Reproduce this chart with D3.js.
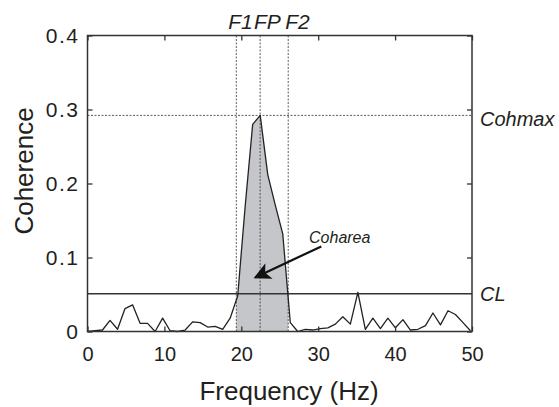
<!DOCTYPE html>
<html>
<head>
<meta charset="utf-8">
<script src="https://cdn.jsdelivr.net/npm/d3@7"></script>
<style>
  body { margin: 0; background: #fff; }
  svg text { font-family: "Liberation Sans", Arial, sans-serif; fill: #231f20; }
</style>
</head>
<body>
<svg id="chart" width="559" height="407"></svg>
<script>
// frequency bins (Hz) and coherence values
var freq = [0.00, 0.98, 1.95, 2.93, 3.91, 4.88, 5.86, 6.84, 7.81, 8.79,
    9.77, 10.74, 11.72, 12.70, 13.67, 14.65, 15.63, 16.60, 17.58, 18.55,
    19.53, 20.51, 21.48, 22.46, 23.44, 24.41, 25.39, 26.37, 27.34, 28.32,
    29.30, 30.27, 31.25, 32.23, 33.20, 34.18, 35.16, 36.13, 37.11, 38.09,
    39.06, 40.04, 41.02, 41.99, 42.97, 43.95, 44.92, 45.90, 46.88, 47.85,
    48.83, 49.80];
var coh = [0.000, 0.001, 0.002, 0.015, 0.003, 0.031, 0.036, 0.011, 0.011, 0.000,
    0.018, 0.001, 0.000, 0.002, 0.013, 0.012, 0.006, 0.007, 0.003, 0.018,
    0.048, 0.170, 0.280, 0.292, 0.212, 0.171, 0.132, 0.012, 0.000, 0.003,
    0.002, 0.004, 0.005, 0.010, 0.020, 0.010, 0.053, 0.003, 0.018, 0.004,
    0.018, 0.005, 0.016, 0.002, 0.003, 0.008, 0.025, 0.009, 0.028, 0.023,
    0.012, 0.001];

var xTicks = [0, 10, 20, 30, 40, 50];
var yTicks = [0, 0.1, 0.2, 0.3, 0.4];

var F1 = 19.35, FP = 22.45, F2 = 26.1;
var CL = 0.051;
var cohmax = 0.292;
var fLabels = [{t: "F1", f: 19.9}, {t: "FP", f: 23.4}, {t: "F2", f: 27.3}];
var arrow = {tail: [30.4, 0.115], tip: [21.8, 0.073], label: [32.8, 0.119]};

var svg = d3.select("#chart");
var x = d3.scaleLinear().domain([0, 50]).range([87.5, 472]);
var y = d3.scaleLinear().domain([0, 0.4]).range([331.5, 35.5]);
var ink = "#333";

var pts = freq.map((f, i) => [f, coh[i]]);

// shaded band between F1 and F2
svg.append("clipPath").attr("id", "band")
    .append("rect")
    .attr("x", x(F1)).attr("y", y(0.4))
    .attr("width", x(F2) - x(F1)).attr("height", y(0) - y(0.4));

svg.append("path")
    .datum(pts)
    .attr("clip-path", "url(#band)")
    .attr("fill", "#c5c6ca")
    .attr("d", d3.area().x(d => x(d[0])).y0(y(0)).y1(d => y(d[1])));

// reference lines
svg.append("line")
    .attr("x1", x(0)).attr("x2", x(50))
    .attr("y1", y(cohmax)).attr("y2", y(cohmax))
    .attr("stroke", ink).attr("stroke-width", 0.8).attr("stroke-dasharray", "2,1.5");

svg.selectAll("line.fl")
    .data([F1, FP, F2])
    .enter().append("line")
    .attr("class", "fl")
    .attr("x1", d => x(d)).attr("x2", d => x(d))
    .attr("y1", y(0.4)).attr("y2", y(0))
    .attr("stroke", ink).attr("stroke-width", 0.8).attr("stroke-dasharray", "2,1.5");

svg.append("line")
    .attr("x1", x(0)).attr("x2", x(50))
    .attr("y1", y(CL)).attr("y2", y(CL))
    .attr("stroke", ink).attr("stroke-width", 1.5);

// coherence trace
svg.append("path")
    .datum(pts)
    .attr("fill", "none")
    .attr("stroke", "#222")
    .attr("stroke-width", 1.3)
    .attr("stroke-linejoin", "round")
    .attr("d", d3.line().x(d => x(d[0])).y(d => y(d[1])));

// axes: ticks pointing inward on all four sides
var tk = 5;
svg.append("g").attr("transform", `translate(0,${y(0)})`)
    .call(d3.axisBottom(x).tickValues(xTicks).tickSize(-tk).tickPadding(15).tickFormat(d3.format("d")));
svg.append("g").attr("transform", `translate(0,${y(0.4)})`)
    .call(d3.axisTop(x).tickValues(xTicks).tickSize(-tk).tickFormat(""));
let yAxis = svg.append("g").attr("transform", `translate(${x(0)},0)`)
    .call(d3.axisLeft(y).tickValues(yTicks).tickSize(-tk).tickPadding(8).tickFormat(d => d === 0 ? "0" : d3.format(".1f")(d)));
svg.append("g").attr("transform", `translate(${x(50)},0)`)
    .call(d3.axisRight(y).tickValues(yTicks).tickSize(-tk).tickFormat(""));

svg.selectAll(".domain").remove();
svg.selectAll(".tick line").attr("stroke", ink).attr("stroke-width", 1.3);
svg.selectAll(".tick text").attr("font-size", 20).attr("fill", "#231f20")
    .attr("font-family", "Liberation Sans, Arial, sans-serif");
yAxis.selectAll(".tick text").attr("font-size", 21).attr("letter-spacing", "1.5px");

svg.append("rect")
    .attr("x", x(0)).attr("y", y(0.4))
    .attr("width", x(50) - x(0)).attr("height", y(0) - y(0.4))
    .attr("fill", "none").attr("stroke", ink).attr("stroke-width", 1.5);

// axis titles
svg.append("text")
    .attr("x", 289).attr("y", 400)
    .attr("text-anchor", "middle")
    .attr("font-size", 26)
    .text("Frequency (Hz)");
svg.append("text")
    .attr("transform", "translate(33,171) rotate(-90)")
    .attr("text-anchor", "middle")
    .attr("font-size", 26)
    .text("Coherence");

// annotations
svg.selectAll("text.fl")
    .data(fLabels)
    .enter().append("text")
    .attr("class", "fl")
    .attr("x", d => x(d.f)).attr("y", 29)
    .attr("text-anchor", "middle")
    .attr("font-size", 21).attr("font-style", "italic")
    .text(d => d.t);

svg.append("text")
    .attr("x", x(50) + 8).attr("y", y(cohmax) + 11)
    .attr("font-size", 20).attr("font-style", "italic")
    .text("Cohmax");
svg.append("text")
    .attr("x", x(50) + 8).attr("y", y(CL) + 7)
    .attr("font-size", 20).attr("font-style", "italic")
    .text("CL");

svg.append("defs").append("marker")
    .attr("id", "head")
    .attr("viewBox", "0 0 10 10")
    .attr("refX", 9).attr("refY", 5)
    .attr("markerWidth", 22).attr("markerHeight", 17)
    .attr("markerUnits", "userSpaceOnUse")
    .attr("orient", "auto")
    .append("path")
    .attr("d", "M0,0 L10,5 L0,10 L2.5,5 Z")
    .attr("fill", "#111");

svg.append("line")
    .attr("x1", x(arrow.tail[0])).attr("y1", y(arrow.tail[1]))
    .attr("x2", x(arrow.tip[0])).attr("y2", y(arrow.tip[1]))
    .attr("stroke", "#111").attr("stroke-width", 2.2)
    .attr("marker-end", "url(#head)");

svg.append("text")
    .attr("x", x(arrow.label[0])).attr("y", y(arrow.label[1]))
    .attr("text-anchor", "middle")
    .attr("font-size", 16).attr("font-style", "italic")
    .text("Coharea");
</script>
</body>
</html>
